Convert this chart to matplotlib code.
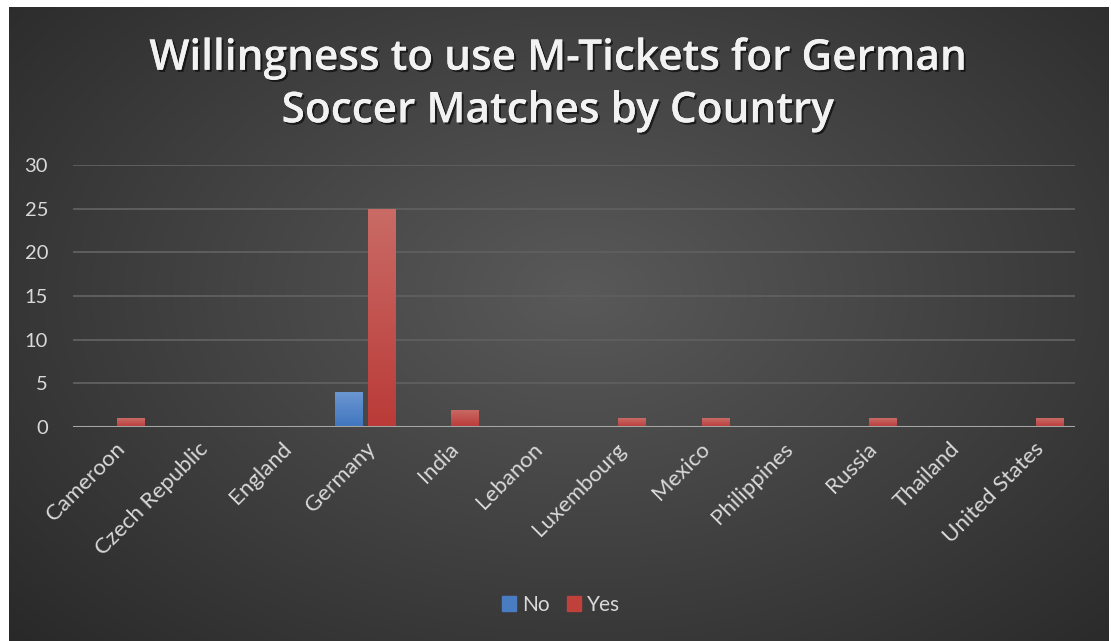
import numpy as np
import matplotlib
matplotlib.use("Agg")
import matplotlib.pyplot as plt
import matplotlib.patheffects as pe
from matplotlib.patches import Patch

# --- Donnees ---
COUNTRIES = ["Cameroon", "Czech Republic", "England", "Germany", "India", "Lebanon",
             "Luxembourg", "Mexico", "Philippines", "Russia", "Thailand", "United States"]
NO = [0, 0, 0, 4, 0, 0, 0, 0, 0, 0, 0, 0]
YES = [1, 0, 0, 25, 2, 0, 1, 1, 0, 1, 0, 1]
YTICKS = [0, 5, 10, 15, 20, 25, 30]

TITLE = "Willingness to use M-Tickets for German\nSoccer Matches by Country"
FONT = "Lato"
TXT = "#d9d9d9"

W, H = 1111, 641
fig = plt.figure(figsize=(W / 100, H / 100), dpi=100, facecolor="white")

# fond sombre en degrade radial
bg = fig.add_axes([9 / W, 0, (1109 - 9) / W, (H - 7) / H])
bg.axis("off")
yy, xx = np.mgrid[0:1:300j, 0:1:500j]
r = np.sqrt(((xx - 0.52) / 0.75) ** 2 + ((yy - 0.55) / 0.85) ** 2)
shade = np.clip(0.35 - 0.20 * r, 0.14, 0.35)
bg.imshow(np.dstack([shade] * 3), extent=(0, 1, 0, 1), aspect="auto", origin="lower")
bg.set_xlim(0, 1)
bg.set_ylim(0, 1)

# titre
fig.text(0.502, 1 - 85 / H, TITLE, ha="center", va="center", fontsize=30.5,
         fontweight="semibold", family="Open Sans", color="#f2f2f2", linespacing=1.33,
         path_effects=[pe.withSimplePatchShadow(offset=(1.5, -1.5), shadow_rgbFace="black", alpha=0.6),
                       pe.Normal()])

ax = fig.add_axes([73 / W, 214 / H, (1075 - 73) / W, (476 - 214) / H])
ax.patch.set_alpha(0)
x = np.arange(len(COUNTRIES))
bw = 0.33
bars_no = ax.bar(x - bw / 2 - 0.03, NO, bw, color="#4a7cc2", zorder=3)
bars_yes = ax.bar(x + bw / 2 + 0.03, YES, bw, color="#c0403c", zorder=3)

# degrade vertical sur chaque barre
def shade_bars(bars, top, bottom):
    grad = np.linspace(0, 1, 100)[:, None]
    c = np.array(bottom)[None, None, :] * (1 - grad[..., None]) + np.array(top)[None, None, :] * grad[..., None]
    for b in bars:
        if b.get_height() <= 0:
            continue
        x0, y0 = b.get_x(), b.get_y()
        im = ax.imshow(c, extent=(x0, x0 + b.get_width(), y0, y0 + b.get_height()),
                       aspect="auto", origin="lower", zorder=4)
        im.set_clip_path(b)

shade_bars(bars_no, (0.42, 0.59, 0.82), (0.25, 0.46, 0.75))
shade_bars(bars_yes, (0.79, 0.42, 0.40), (0.73, 0.23, 0.22))

ax.set_xlim(-0.5, len(COUNTRIES) - 0.5)
ax.set_ylim(0, 30)
ax.set_yticks(YTICKS)
ax.grid(axis="y", color="#5e5e5e", lw=1.4, zorder=0)
ax.axhline(0, color="#a6a6a6", lw=2.2, zorder=5)
for s in ax.spines.values():
    s.set_visible(False)
ax.tick_params(length=0, colors=TXT, pad=0)
ax.tick_params(axis="y", pad=18, labelsize=14.5)
ax.tick_params(axis="x", labelsize=16)
ax.set_xticks(x)
ax.set_xticklabels(COUNTRIES, rotation=45, ha="right", rotation_mode="anchor", family=FONT)
for lab in ax.get_yticklabels():
    lab.set_family(FONT)
for lab in ax.get_xticklabels():
    lab.set_y(-0.045)

fig.legend(handles=[Patch(color="#4a7cc2", label="No"), Patch(color="#c0403c", label="Yes")],
           loc="center", bbox_to_anchor=(0.505, 1 - 605 / H), ncol=2, frameon=False,
           prop={"family": FONT, "size": 15}, labelcolor=TXT, handlelength=0.7,
           handleheight=0.7, handletextpad=0.3, columnspacing=0.8)

fig.savefig("out.png", dpi=100, facecolor="white")
